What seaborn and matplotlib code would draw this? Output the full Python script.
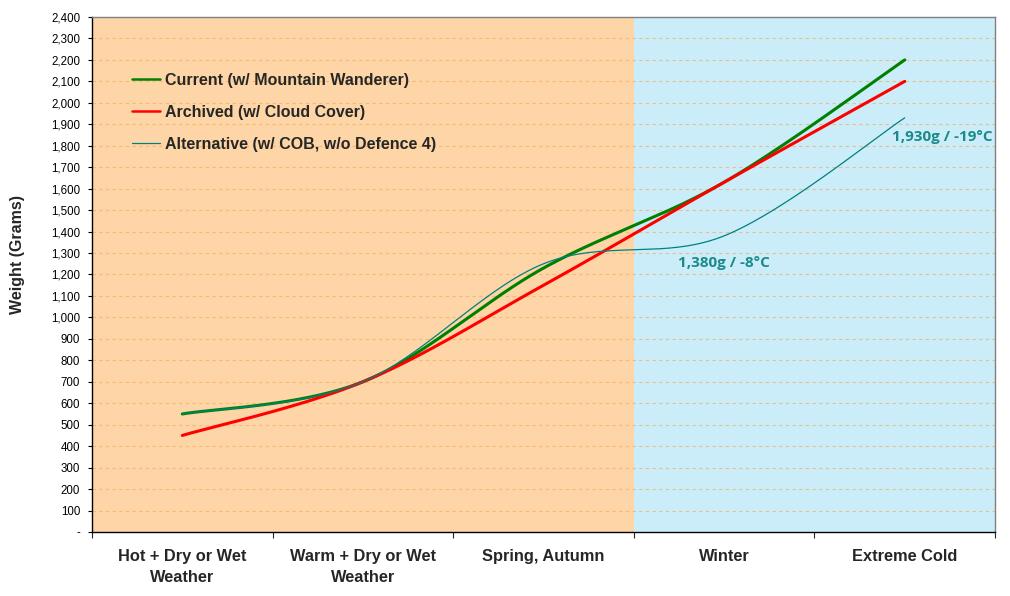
import numpy as np
import pandas as pd
import seaborn as sns
import matplotlib.pyplot as plt
from matplotlib.ticker import FuncFormatter, FixedLocator

sns.set_theme(style="white")
plt.rcParams['font.family'] = ['Liberation Sans', 'DejaVu Sans']

# data
categories = ["Hot + Dry or Wet\nWeather", "Warm + Dry or Wet\nWeather",
              "Spring, Autumn", "Winter", "Extreme Cold"]
current = [550, 700, 1230, 1630, 2200]
archived = [450, 700, 1150, 1630, 2100]
alternative = [550, 700, 1250, 1380, 1930]
series_names = ["Current (w/ Mountain Wanderer)", "Archived (w/ Cloud Cover)",
                "Alternative (w/ COB, w/o Defence 4)"]
notes = ["1,380g / -8°C", "1,930g / -19°C"]


def smooth(values, n=60):
    # Excel style smoothed line: bezier segments through each point
    pts = np.column_stack([np.arange(len(values)), values]).astype(float)
    pad = np.vstack([pts[0], pts, pts[-1]])
    xs, ys = [], []
    t = np.linspace(0, 1, n)[:, None]
    for i in range(len(pts) - 1):
        p0, p3 = pad[i + 1], pad[i + 2]
        c1 = p0 + (pad[i + 2] - pad[i]) / 6
        c2 = p3 - (pad[i + 3] - pad[i + 1]) / 6
        b = ((1 - t) ** 3) * p0 + 3 * ((1 - t) ** 2) * t * c1 + 3 * (1 - t) * t ** 2 * c2 + t ** 3 * p3
        xs.append(b[:, 0])
        ys.append(b[:, 1])
    return np.concatenate(xs), np.concatenate(ys)


fig = plt.figure(figsize=(10.1, 5.96), dpi=100)
ax = fig.add_axes([0.0911, 0.1074, 0.8941, 0.8641])

ax.axvspan(-0.5, 2.5, color='#FDD5A6', zorder=0, lw=0)
ax.axvspan(2.5, 4.5, color='#CBEDF9', zorder=0, lw=0)

for v in range(100, 2400, 100):
    ax.axhline(v, color='#F5B060', alpha=0.75, lw=0.8, dashes=(3, 3), zorder=1)

styles = [('#008000', 2.2), ('#FF0000', 2.2), ('#008080', 0.9)]
for vals, name, (col, lw) in zip([current, archived, alternative], series_names, styles):
    sx, sy = smooth(vals)
    df = pd.DataFrame({'x': sx, 'y': sy})
    sns.lineplot(data=df, x='x', y='y', ax=ax, color=col, linewidth=lw,
                 label=name, sort=False, zorder=3)

ax.text(2.746, 1253, notes[0], color='#1A8A8A', fontsize=11, fontweight='bold',
        family='Open Sans', ha='left', va='center', zorder=4)
ax.text(3.93, 1840, notes[1], color='#1A8A8A', fontsize=11, fontweight='bold',
        family='Open Sans', ha='left', va='center', zorder=4)

ax.set_xlim(-0.5, 4.5)
ax.set_ylim(0, 2400)
ax.set_yticks(range(0, 2401, 100))
ax.yaxis.set_major_formatter(FuncFormatter(lambda v, p: '-' if v == 0 else f'{v:,.0f}'))
ax.tick_params(axis='y', direction='out', length=3, width=0.8, pad=5.5, labelsize=8.3, colors='black', left=True)

ax.xaxis.set_major_locator(FixedLocator(np.arange(-0.5, 4.6, 1)))
ax.xaxis.set_minor_locator(FixedLocator(range(5)))
ax.set_xticklabels([], minor=False)
ax.set_xticklabels(categories, minor=True, fontsize=11.8, fontweight='bold', linespacing=1.45)
ax.tick_params(axis='x', which='major', direction='out', length=4, width=0.8, bottom=True)
ax.tick_params(axis='x', which='minor', length=0, pad=12.5)

ax.set_xlabel('')
ax.set_ylabel('Weight (Grams)', fontsize=11.5, fontweight='bold')
ax.yaxis.set_label_coords(-0.074, 0.538)

for s in ['left', 'bottom']:
    ax.spines[s].set_color('black')
    ax.spines[s].set_linewidth(1)
for s in ['top', 'right']:
    ax.spines[s].set_color('#808080')
    ax.spines[s].set_linewidth(1)

leg = ax.legend(loc='upper left', bbox_to_anchor=(0.028, 0.92), frameon=False,
                prop={'size': 11.5, 'weight': 'bold'}, handlelength=1.8, handletextpad=0.3,
                labelspacing=1.08)
for line in leg.get_lines():
    line.set_linewidth(min(line.get_linewidth(), 1.8))

fig.savefig('out.png', dpi=100)
